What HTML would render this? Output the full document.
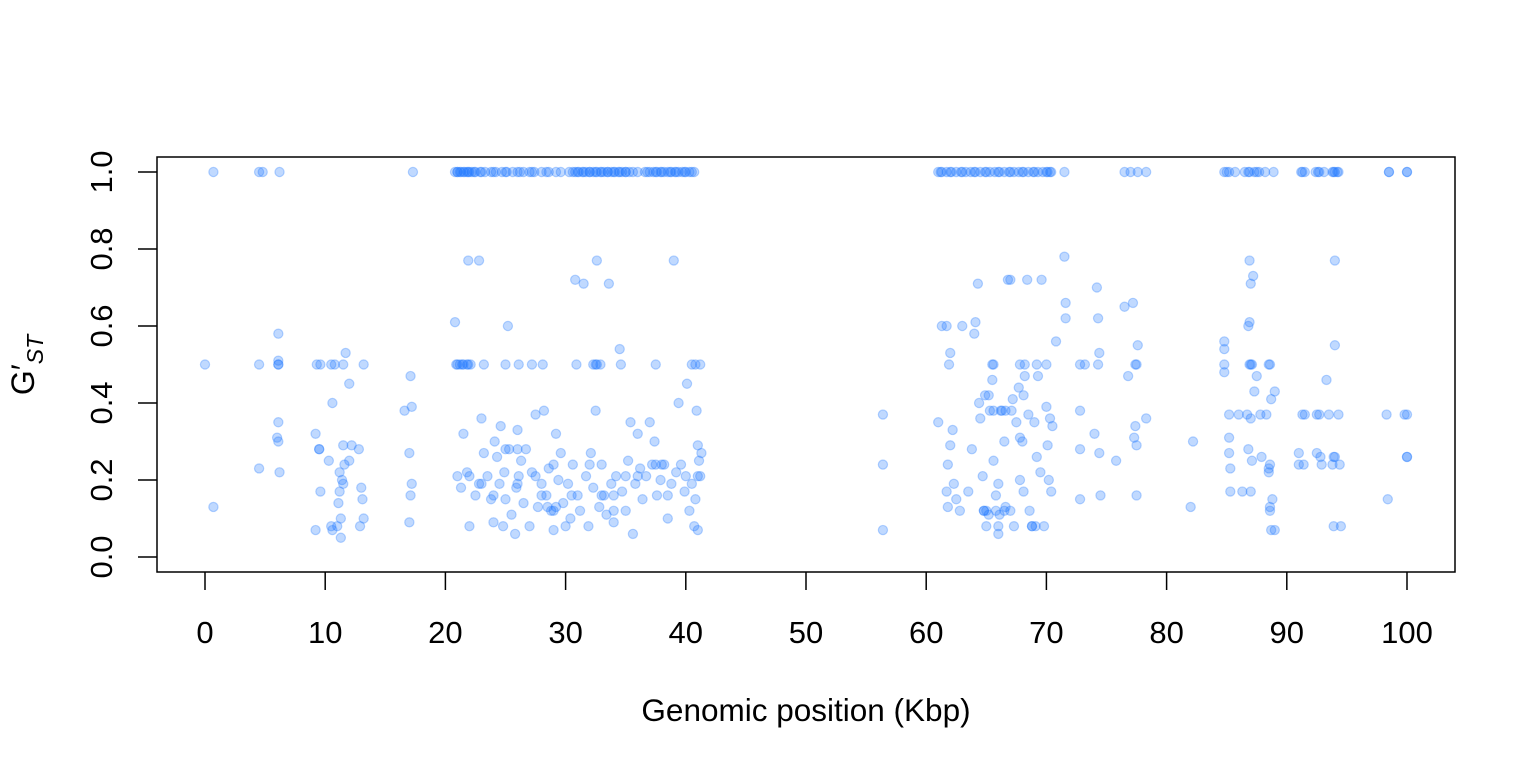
<!DOCTYPE html>
<html><head><meta charset="utf-8"><style>
body{margin:0;background:#fff;}
svg{display:block;font-family:"Liberation Sans",Arial,sans-serif;}
</style></head><body>
<svg id="chart" width="1536" height="768" viewBox="0 0 1536 768" xmlns="http://www.w3.org/2000/svg">
<rect x="157" y="157" width="1298" height="415" fill="none" stroke="#000" stroke-width="1.5"/>
<g id="xaxis"></g>
<g id="yaxis"></g>
<g id="points"></g>
<text x="806" y="721" font-size="31.5" text-anchor="middle">Genomic position (Kbp)</text>
<text transform="translate(34,365) rotate(-90)" font-size="32" text-anchor="middle">G′<tspan font-size="23" font-style="italic" dy="9">ST</tspan></text>
</svg>
<script>
const xTicks=[0,10,20,30,40,50,60,70,80,90,100];
const yTicks=[0,0.2,0.4,0.6,0.8,1.0];
const yTickLabels=["0.0","0.2","0.4","0.6","0.8","1.0"];
const topX=[0.7,4.5,4.8,6.2,17.3,20.8,21.0,21.3,21.6,21.9,22.2,22.5,22.9,23.3,23.8,24.2,24.7,25.1,25.6,26.0,26.5,27.0,27.4,28.0,28.6,29.2,29.6,30.3,30.8,31.1,31.4,31.7,32.0,32.3,32.6,32.9,33.2,33.5,33.8,34.1,34.4,34.7,35.0,35.3,35.6,36.0,36.6,37.0,37.3,37.6,37.9,38.2,38.5,38.8,39.1,39.4,39.7,40.0,40.3,40.7,61.0,61.3,61.7,62.1,62.5,62.9,63.3,63.7,64.1,64.5,64.9,65.3,65.7,66.1,66.5,66.9,67.3,67.7,68.1,68.5,68.9,69.3,69.7,70.1,70.4,71.5,76.5,77.0,77.6,78.3,84.8,85.2,85.7,86.5,86.9,87.3,87.7,88.2,88.9,91.2,91.5,92.4,92.7,93.1,93.8,94.0,94.3,98.5,100];
const topX2=[21.0,21.2,21.5,21.8,22.0,22.4,23.0,24.0,25.0,26.2,27.2,28.4,30.6,31.0,31.5,32.0,32.5,33.0,33.5,34.0,34.5,35.0,36.8,37.5,38.0,38.7,39.2,39.9,40.5,61.2,62.0,63.0,64.0,65.0,66.0,67.0,68.0,69.0,70.0,70.3,85.0,86.8,87.5,91.3,92.6,93.9,94.2,98.5,100];
const halfX=[0,4.5,6.1,6.1,9.3,9.6,10.5,10.8,11.5,13.2,20.9,21.2,21.5,21.8,22.1,21.0,21.4,21.9,23.2,25.0,26.1,27.2,28.1,30.9,32.3,32.6,32.9,32.5,34.6,37.5,40.5,40.8,41.2,61.9,65.5,65.6,67.8,68.2,69.2,70.0,72.8,74.3,77.4,77.5,84.8,86.9,87.1,87.0,88.6,88.5];
const scatX=[0.7,4.5,6.1,6.1,6.0,6.1,6.2,6.1,9.2,9.5,9.5,9.6,9.2,10.3,10.5,10.6,10.6,11.0,11.1,11.2,11.3,11.4,11.5,11.6,11.3,11.7,12.0,12.2,12.0,12.8,13.0,13.1,13.2,12.9,11.2,11.5,16.6,17.1,17.2,17.0,17.2,17.1,17.0,
20.8,21.0,21.3,21.5,21.8,21.9,22.0,22.5,22.8,22.8,23.0,23.2,23.5,23.8,24.0,24.1,24.3,24.5,24.6,24.8,24.9,25.0,25.2,25.3,25.5,25.8,25.9,26.0,26.1,26.3,26.5,26.7,27.0,27.2,27.5,27.7,28.0,28.2,28.4,28.6,28.8,29.0,29.2,29.4,29.6,29.8,30.0,30.2,30.4,30.6,30.8,31.0,31.2,31.5,31.7,31.9,32.1,32.3,32.5,32.6,32.8,33.0,33.2,33.4,33.6,33.8,34.0,34.2,34.5,34.7,35.0,35.2,35.4,35.6,35.8,36.0,36.2,36.4,36.7,37.0,37.2,37.4,37.6,37.9,38.2,38.5,38.8,39.0,39.2,39.4,39.6,39.9,40.1,40.3,40.5,40.7,40.9,41.0,41.1,41.2,41.3,41.0,40.8,
22.0,23.0,24.0,26.0,27.5,28.5,29.0,29.2,30.5,32.0,33.0,34.0,35.0,36.0,37.5,38.0,38.5,40.0,41.0,26.0,25.0,34.0,29.0,28.0,
56.4,56.4,56.4,
61.0,61.3,61.7,61.8,61.7,61.8,62.0,62.0,62.2,62.3,62.5,62.8,63.0,63.5,63.8,64.0,64.1,64.3,64.4,64.5,64.7,64.8,65.0,65.2,65.3,65.5,65.6,65.8,66.0,66.1,66.3,66.5,66.6,66.8,67.0,67.2,67.3,67.5,67.7,67.8,68.0,68.1,68.2,68.4,68.5,68.6,68.8,69.0,69.2,69.3,69.5,69.6,69.8,70.0,70.1,70.2,70.3,70.4,70.5,70.8,71.5,71.6,71.6,72.8,72.8,72.8,73.2,74.0,74.2,74.3,74.4,74.4,74.5,75.8,76.5,76.8,77.2,77.4,77.5,77.3,77.5,77.6,78.3,82.2,82.0,
65.6,66.2,66.6,67.1,68.1,64.9,65.2,67.8,66.0,65.8,66.5,67.0,65.0,64.8,66.0,68.8,69.1,
84.8,84.8,84.8,85.2,85.2,85.2,85.3,85.3,86.0,86.3,86.7,86.8,86.8,86.9,86.9,87.0,87.2,87.3,87.0,87.1,87.0,87.5,87.8,87.9,88.3,88.5,88.5,88.6,88.6,88.7,88.8,88.7,89.0,89.0,88.6,91.0,91.0,91.3,91.4,91.5,92.5,92.7,92.5,92.8,92.9,93.3,93.5,93.8,93.9,94.0,93.9,94.0,94.0,94.3,94.5,94.4,98.3,98.4,99.8,100.0,100.0,100.0];
const scatY=[0.13,0.23,0.58,0.35,0.31,0.30,0.22,0.51,0.32,0.28,0.28,0.17,0.07,0.25,0.08,0.07,0.40,0.08,0.14,0.17,0.10,0.20,0.29,0.24,0.05,0.53,0.45,0.29,0.25,0.28,0.18,0.15,0.10,0.08,0.22,0.19,0.38,0.47,0.39,0.27,0.19,0.16,0.09,
0.61,0.21,0.18,0.32,0.22,0.77,0.08,0.16,0.77,0.19,0.36,0.27,0.21,0.15,0.09,0.30,0.26,0.19,0.34,0.08,0.22,0.15,0.60,0.28,0.11,0.06,0.18,0.33,0.21,0.25,0.14,0.28,0.08,0.22,0.37,0.13,0.19,0.38,0.16,0.23,0.12,0.07,0.32,0.20,0.27,0.14,0.08,0.19,0.10,0.24,0.72,0.16,0.12,0.71,0.21,0.08,0.27,0.18,0.38,0.77,0.13,0.24,0.16,0.11,0.71,0.19,0.09,0.21,0.54,0.17,0.12,0.25,0.35,0.06,0.19,0.32,0.23,0.15,0.21,0.35,0.24,0.30,0.16,0.20,0.24,0.10,0.19,0.77,0.22,0.40,0.24,0.17,0.45,0.12,0.19,0.08,0.38,0.29,0.25,0.21,0.27,0.07,0.15,
0.21,0.19,0.16,0.19,0.21,0.13,0.12,0.13,0.16,0.24,0.16,0.16,0.21,0.21,0.24,0.24,0.16,0.21,0.21,0.28,0.28,0.12,0.24,0.16,
0.37,0.24,0.07,
0.35,0.60,0.60,0.24,0.17,0.13,0.29,0.53,0.33,0.19,0.15,0.12,0.60,0.17,0.28,0.58,0.61,0.71,0.40,0.36,0.21,0.12,0.08,0.11,0.38,0.46,0.25,0.16,0.19,0.11,0.38,0.30,0.13,0.72,0.72,0.41,0.08,0.35,0.44,0.20,0.30,0.17,0.47,0.72,0.37,0.12,0.08,0.35,0.26,0.47,0.22,0.72,0.08,0.39,0.29,0.20,0.36,0.17,0.34,0.56,0.78,0.66,0.62,0.38,0.28,0.15,0.50,0.32,0.70,0.62,0.53,0.27,0.16,0.25,0.65,0.47,0.66,0.34,0.29,0.31,0.16,0.55,0.36,0.30,0.13,
0.38,0.38,0.38,0.38,0.42,0.42,0.42,0.31,0.08,0.12,0.12,0.12,0.12,0.12,0.06,0.08,0.08,
0.56,0.54,0.48,0.37,0.31,0.27,0.23,0.17,0.37,0.17,0.37,0.28,0.60,0.61,0.77,0.71,0.73,0.43,0.36,0.25,0.17,0.47,0.37,0.26,0.37,0.23,0.22,0.13,0.12,0.07,0.15,0.41,0.43,0.07,0.24,0.27,0.24,0.37,0.24,0.37,0.37,0.37,0.27,0.26,0.24,0.46,0.37,0.24,0.26,0.26,0.08,0.55,0.77,0.37,0.08,0.24,0.37,0.15,0.37,0.37,0.26,0.26];

const NS="http://www.w3.org/2000/svg";
function xs(v){return 205+v*12.02;}
function ys(v){return 557-v*385;}
const xa=document.getElementById('xaxis'),ya=document.getElementById('yaxis'),pg=document.getElementById('points');
function mk(tag,attrs,parent){const e=document.createElementNS(NS,tag);for(const k in attrs)e.setAttribute(k,attrs[k]);parent.appendChild(e);return e;}
xTicks.forEach(t=>{
  const l=mk('line',{x1:xs(t),x2:xs(t),y1:572,y2:590,stroke:'#000','stroke-width':1.5},xa);
  
  
  const tx=mk('text',{x:xs(t),y:643,'font-size':31,'text-anchor':'middle'},xa);
  tx.textContent=t;
  
  
});
yTicks.forEach((t,i)=>{
  const l=mk('line',{x1:138,x2:157,y1:ys(t),y2:ys(t),stroke:'#000','stroke-width':1.5},ya);
  
  
  const tx=mk('text',{transform:`translate(112,${ys(t)}) rotate(-90)`,'font-size':31,'text-anchor':'middle'},ya);
  tx.textContent=yTickLabels[i];
  
  
});
function dot(x,y){
  const c=mk('circle',{cx:xs(x),cy:ys(y),r:4.6,fill:'rgba(30,120,255,0.28)',stroke:'rgba(30,120,255,0.3)','stroke-width':1.2},pg);
  
  
}
topX.forEach(x=>dot(x,1.0));
topX2.forEach(x=>dot(x,1.0));
halfX.forEach(x=>dot(x,0.5));
scatX.forEach((x,i)=>dot(x,scatY[i]));
</script>
</body></html>
